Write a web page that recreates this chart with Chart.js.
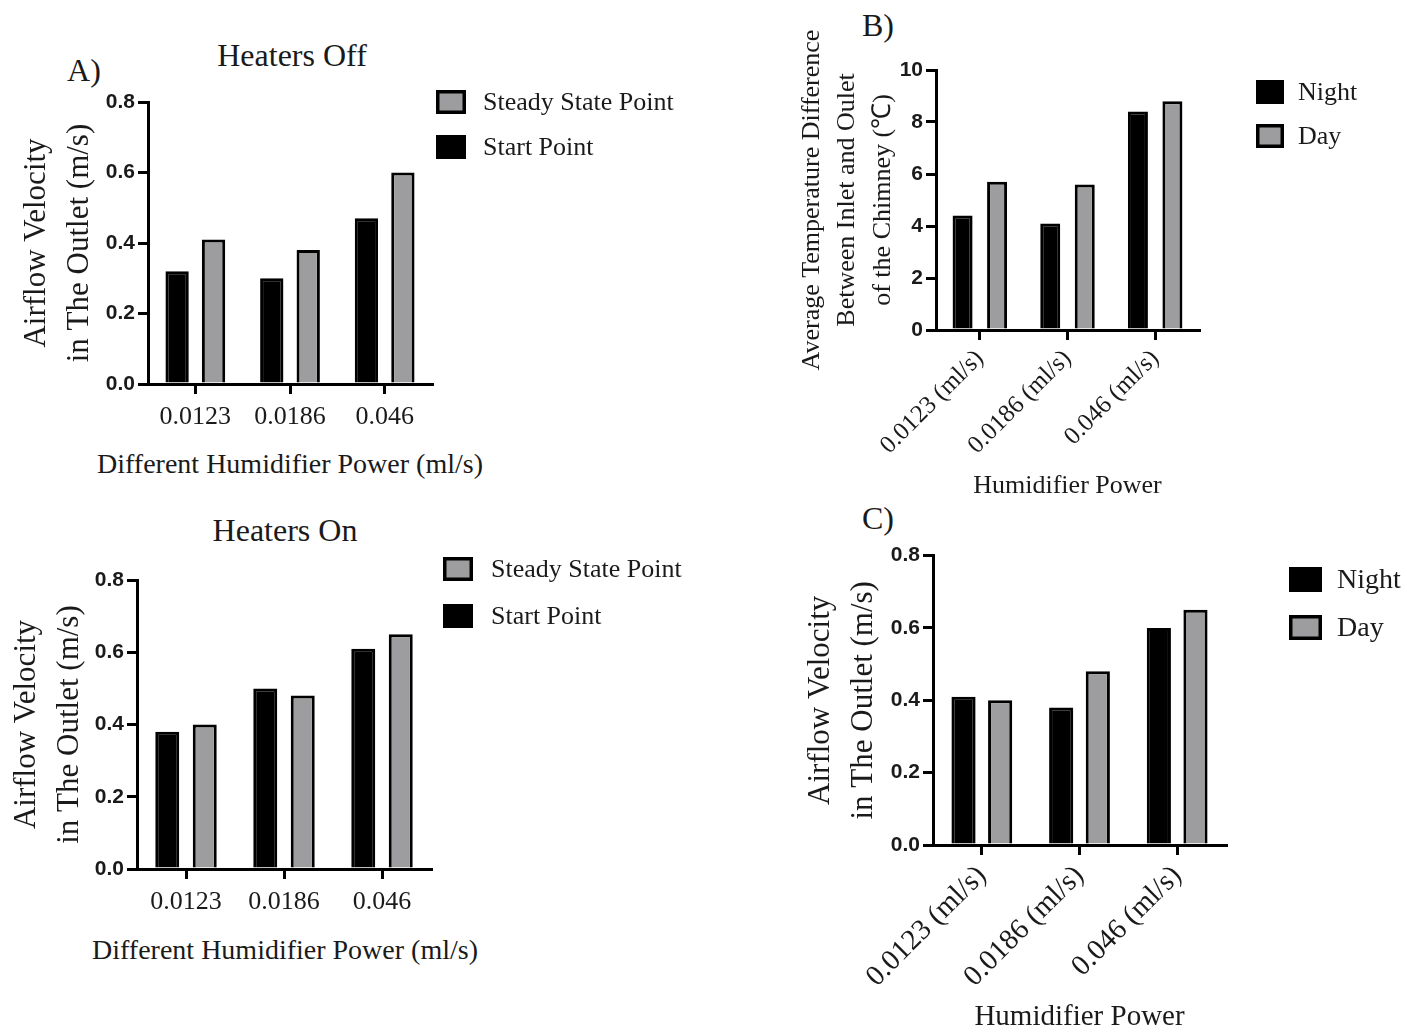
<!DOCTYPE html>
<html>
<head>
<meta charset="utf-8">
<script src="https://cdn.jsdelivr.net/npm/chart.js@4.4.1/dist/chart.umd.min.js"></script>
<style>
  body { margin: 0; background: #fff; width: 1407px; height: 1033px; position: relative; overflow: hidden; }
  canvas { position: absolute; }
  .lbl { position: absolute; font-family: "Liberation Serif", serif; color: #1a1a1a; transform: translate(-50%, -50%); white-space: nowrap; }
</style>
</head>
<body>
<div class="lbl" style="left:84px; top:70px; font-size:32px;">A)</div>
<div class="lbl" style="left:292px; top:55px; font-size:32px;">Heaters Off</div>
<div class="lbl" style="left:285px; top:530px; font-size:32px;">Heaters On</div>
<div class="lbl" style="left:878px; top:25px; font-size:32px;">B)</div>
<div class="lbl" style="left:878px; top:518px; font-size:32px;">C)</div>
<!-- Achsentitel von A sind breiter als die Achse, daher als HTML -->
<div class="lbl" style="left:290px; top:464px; font-size:28px;">Different Humidifier Power (ml/s)</div>
<div class="lbl" style="left:285px; top:950px; font-size:28px;">Different Humidifier Power (ml/s)</div>

<canvas id="offChart" width="700" height="440" style="left:0px; top:40px;"></canvas>
<canvas id="onChart" width="700" height="460" style="left:0px; top:510px;"></canvas>
<canvas id="tempChart" width="627" height="510" style="left:780px; top:0px;"></canvas>
<canvas id="velChart" width="627" height="493" style="left:780px; top:540px;"></canvas>

<script>
// Werte
const powerLabels = ['0.0123', '0.0186', '0.046'];
const powerLabelsUnit = ['0.0123 (ml/s)', '0.0186 (ml/s)', '0.046 (ml/s)'];

// A) Heaters Off
const offStart = [0.32, 0.30, 0.47];
const offSteady = [0.41, 0.38, 0.60];
// A) Heaters On
const onStart = [0.38, 0.50, 0.61];
const onSteady = [0.40, 0.48, 0.65];
// B) Temperaturdifferenz
const tempNight = [4.4, 4.1, 8.4];
const tempDay = [5.7, 5.6, 8.8];
// C) Luftgeschwindigkeit
const velNight = [0.41, 0.38, 0.60];
const velDay = [0.40, 0.48, 0.65];

const BLACK = '#000000';
const GREY = '#9d9d9f';
const TEXT = '#1a1a1a';
const SERIF = '"Liberation Serif", "Times New Roman", serif';
const SANS = '"Liberation Sans", Arial, sans-serif';

// Legende mit Kästchen rechts neben dem Diagramm
const boxLegend = {
    id: 'boxLegend',
    afterDraw(chart, args, opts) {
        const ctx = chart.ctx;
        const sets = chart.data.datasets.slice();
        if (opts.reverse) sets.reverse();
        ctx.save();
        ctx.font = opts.fontSize + 'px ' + SERIF;
        ctx.textBaseline = 'middle';
        sets.forEach((ds, i) => {
            const y = opts.top + i * opts.gap;
            ctx.fillStyle = ds.backgroundColor;
            ctx.fillRect(opts.left, y, opts.boxW, opts.boxH);
            ctx.lineWidth = 3.5;
            ctx.strokeStyle = BLACK;
            ctx.strokeRect(opts.left + 1.75, y + 1.75, opts.boxW - 3.5, opts.boxH - 3.5);
            ctx.fillStyle = TEXT;
            ctx.fillText(ds.label, opts.left + opts.textDx, y + opts.boxH / 2 + 1);
        });
        ctx.restore();
    }
};

function barSet(label, data, color, cat, bar) {
    return {
        label: label,
        data: data,
        backgroundColor: color,
        borderColor: BLACK,
        borderWidth: 3,
        categoryPercentage: cat,
        barPercentage: bar
    };
}

function makeChart(id, s) {
    const ctx = document.getElementById(id).getContext('2d');
    return new Chart(ctx, {
        type: 'bar',
        data: { labels: s.labels, datasets: s.datasets },
        plugins: [boxLegend],
        options: {
            responsive: false,
            animation: false,
            events: [],
            layout: { padding: { top: s.padTop, right: s.padRight, left: 0, bottom: 0 } },
            plugins: {
                legend: { display: false },
                tooltip: { enabled: false },
                boxLegend: s.legend
            },
            scales: {
                x: {
                    type: 'category',
                    offset: true,
                    afterFit: (scale) => { scale.height = s.xHeight; },
                    grid: { offset: false, drawOnChartArea: false, drawTicks: true, tickLength: 10, lineWidth: 3, color: BLACK },
                    border: { display: true, width: 3, color: BLACK },
                    ticks: {
                        color: TEXT,
                        font: { family: SERIF, size: s.xTickSize },
                        padding: s.xTickPad,
                        autoSkip: false,
                        minRotation: s.rotation,
                        maxRotation: s.rotation
                    },
                    title: {
                        display: !!s.xTitle,
                        text: s.xTitle || '',
                        color: TEXT,
                        font: { family: SERIF, size: s.xTitleSize, lineHeight: 1 },
                        padding: { top: 0, bottom: s.xTitlePad }
                    }
                },
                y: {
                    min: 0,
                    max: s.yMax,
                    afterFit: (scale) => { scale.width = s.yWidth; },
                    grid: { drawOnChartArea: false, drawTicks: true, tickLength: 10, lineWidth: 3, color: BLACK },
                    border: { display: true, width: 3, color: BLACK },
                    ticks: {
                        stepSize: s.yStep,
                        color: TEXT,
                        padding: 3,
                        font: { family: SANS, size: 21, weight: 'bold' },
                        callback: (v) => s.yDecimals ? Number(v).toFixed(s.yDecimals) : String(Math.round(v))
                    },
                    title: {
                        display: true,
                        text: s.yTitle,
                        color: TEXT,
                        font: { family: SERIF, size: s.yTitleSize, lineHeight: s.yTitleLine },
                        padding: { top: s.yTitlePad, bottom: 0 }
                    }
                }
            }
        }
    });
}

makeChart('offChart', {
    labels: powerLabels,
    datasets: [
        barSet('Start Point', offStart, BLACK, 0.77, 0.64),
        barSet('Steady State Point', offSteady, GREY, 0.77, 0.64)
    ],
    padTop: 62, padRight: 268, yWidth: 148, xHeight: 96,
    yMax: 0.8, yStep: 0.2, yDecimals: 1,
    yTitle: ['Airflow Velocity', 'in The Outlet (m/s)'], yTitleSize: 31, yTitleLine: 1.4, yTitlePad: 15,
    xTitle: null,
    xTickSize: 26, xTickPad: 8, rotation: 0,
    legend: { reverse: true, left: 436, top: 50, gap: 45, boxW: 30, boxH: 24, textDx: 47, fontSize: 26 }
});

makeChart('onChart', {
    labels: powerLabels,
    datasets: [
        barSet('Start Point', onStart, BLACK, 0.765, 0.64),
        barSet('Steady State Point', onSteady, GREY, 0.765, 0.64)
    ],
    padTop: 70, padRight: 269, yWidth: 137, xHeight: 101,
    yMax: 0.8, yStep: 0.2, yDecimals: 1,
    yTitle: ['Airflow Velocity', 'in The Outlet (m/s)'], yTitleSize: 31, yTitleLine: 1.4, yTitlePad: 5,
    xTitle: null,
    xTickSize: 26, xTickPad: 8, rotation: 0,
    legend: { reverse: true, left: 443, top: 47, gap: 47, boxW: 30, boxH: 24, textDx: 48, fontSize: 26 }
});

makeChart('tempChart', {
    labels: powerLabelsUnit,
    datasets: [
        barSet('Night', tempNight, BLACK, 0.787, 0.58),
        barSet('Day', tempDay, GREY, 0.787, 0.58)
    ],
    padTop: 70, padRight: 208, yWidth: 156, xHeight: 180,
    yMax: 10, yStep: 2, yDecimals: 0,
    yTitle: ['Average Temperature Difference', 'Between Inlet and Oulet', 'of the Chimney (\u2103)'],
    yTitleSize: 26, yTitleLine: 1.35, yTitlePad: 15,
    xTitle: 'Humidifier Power', xTitleSize: 26, xTitlePad: 11,
    xTickSize: 25, xTickPad: 4, rotation: 45,
    legend: { reverse: false, left: 476, top: 80, gap: 44, boxW: 28, boxH: 24, textDx: 42, fontSize: 26 }
});

makeChart('velChart', {
    labels: powerLabelsUnit,
    datasets: [
        barSet('Night', velNight, BLACK, 0.75, 0.66),
        barSet('Day', velDay, GREY, 0.75, 0.66)
    ],
    padTop: 15, padRight: 181, yWidth: 153, xHeight: 188,
    yMax: 0.8, yStep: 0.2, yDecimals: 1,
    yTitle: ['Airflow Velocity', 'in The Outlet (m/s)'], yTitleSize: 31, yTitleLine: 1.4, yTitlePad: 19,
    xTitle: 'Humidifier Power', xTitleSize: 29, xTitlePad: 1,
    xTickSize: 29, xTickPad: 4, rotation: 45,
    legend: { reverse: false, left: 509, top: 27, gap: 48, boxW: 33, boxH: 25, textDx: 48, fontSize: 28 }
});
</script>
</body>
</html>
